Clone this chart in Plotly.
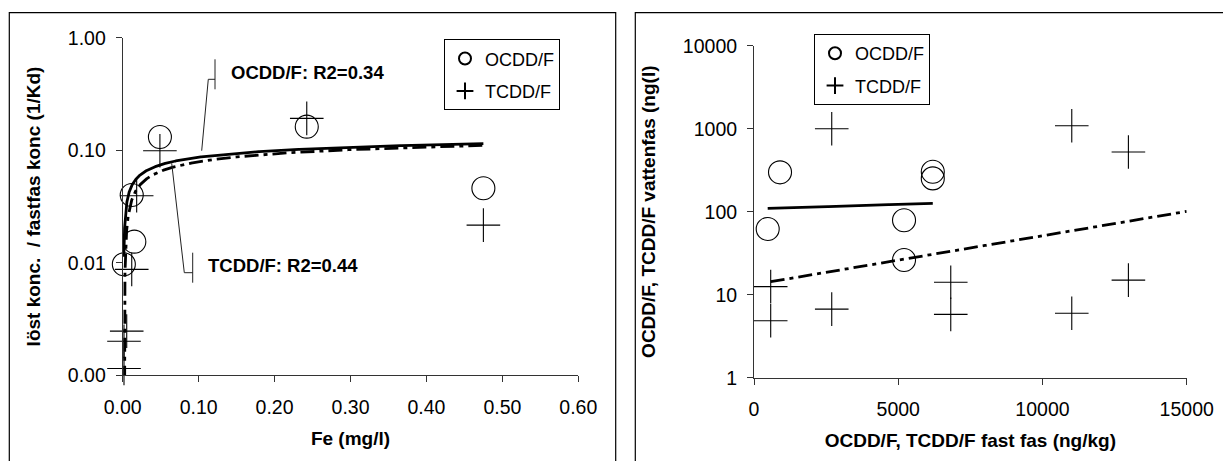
import numpy as np
import plotly.graph_objects as go

# ---------------- data ----------------
# Left panel: Fe (mg/l) vs dissolved / solid phase concentration (1/Kd)
fe_ocdd = [0.0015, 0.0119, 0.0153, 0.049, 0.2424, 0.475]
kd_ocdd = [0.0097, 0.040, 0.0154, 0.131, 0.162, 0.0459]
fe_tcdd = [0.0017, 0.0017, 0.0053, 0.0119, 0.0184, 0.049, 0.2424, 0.475]
kd_tcdd = [0.00115, 0.00201, 0.00247, 0.00874, 0.0394, 0.099, 0.192, 0.0216]

# Right panel: solid phase (ng/kg) vs water phase (ng/l)
solid_ocdd = [475, 902, 6198, 6198, 5201, 5201]
water_ocdd = [62, 298, 303, 252, 79, 26.2]
solid_tcdd = [579, 579, 2695, 2695, 6821, 6821, 11016, 11016, 12979, 12979]
water_tcdd = [12.5, 4.86, 1000, 6.7, 14.1, 5.8, 1087, 5.97, 524, 15.0]

left_yticks = [0.001, 0.01, 0.1, 1]
left_yticklabels = ["0.00", "0.01", "0.10", "1.00"]
right_yticks = [1, 10, 100, 1000, 10000]
right_yticklabels = ["1", "10", "100", "1000", "10000"]

series_names = ["OCDD/F", "TCDD/F"]
label_ocdd = "OCDD/F: R2=0.34"
label_tcdd = "TCDD/F: R2=0.44"

# trendline option (Excel-style forward forecast on the TCDD exponential fit)
tcdd_forecast_to = 15000


# ---------------- trendlines (least-squares fits of the data) ----------------
def log_trend(x, y, n=1500):
    a, b = np.polyfit(np.log(x), y, 1)
    xs = np.geomspace(min(x), max(x), n)
    ys = a * np.log(xs) + b
    return list(xs), [float(v) if v > 0 else None for v in ys]


def exp_trend(x, y, x_end=None, n=300):
    k, ln_a = np.polyfit(x, np.log(y), 1)
    xs = np.linspace(min(x), x_end if x_end else max(x), n)
    return list(xs), list(np.exp(ln_a + k * xs))


lx_o, ly_o = log_trend(fe_ocdd, kd_ocdd)
lx_t, ly_t = log_trend(fe_tcdd, kd_tcdd)
rx_o, ry_o = exp_trend(solid_ocdd, water_ocdd)
rx_t, ry_t = exp_trend(solid_tcdd, water_tcdd, tcdd_forecast_to)

# ---------------- figure ----------------
W, H = 1231, 461
PAGE_OFFSET = 8  # default body margin of the html page
FONT = "Liberation Sans, Arial, sans-serif"
DASHDOT = "14px,5px,4px,5px"


def px(x):
    return (x - PAGE_OFFSET) / W


def py(y):
    return 1 - (y - PAGE_OFFSET) / H


circle = dict(symbol="circle-open", size=23, color="black", line=dict(width=1.1, color="black"))
cross = dict(symbol="cross-thin-open", size=24, color="black", line=dict(width=1.1, color="black"))

fig = go.Figure()

# left panel
fig.add_trace(go.Scatter(x=lx_o, y=ly_o, mode="lines", line=dict(color="black", width=2.8),
                         showlegend=False, xaxis="x", yaxis="y", hoverinfo="skip"))
fig.add_trace(go.Scatter(x=lx_t, y=ly_t, mode="lines", line=dict(color="black", width=2.8, dash=DASHDOT),
                         showlegend=False, xaxis="x", yaxis="y", hoverinfo="skip", connectgaps=False))
fig.add_trace(go.Scatter(x=fe_ocdd, y=kd_ocdd, mode="markers", marker=circle, name=series_names[0],
                         legendgroup="o1", cliponaxis=False, xaxis="x", yaxis="y", legend="legend"))
fig.add_trace(go.Scatter(x=fe_tcdd, y=kd_tcdd, mode="markers", marker=cross, name=series_names[1],
                         legendgroup="t1", cliponaxis=False, xaxis="x", yaxis="y", legend="legend"))

# right panel
fig.add_trace(go.Scatter(x=rx_o, y=ry_o, mode="lines", line=dict(color="black", width=2.8),
                         showlegend=False, xaxis="x2", yaxis="y2", hoverinfo="skip"))
fig.add_trace(go.Scatter(x=rx_t, y=ry_t, mode="lines", line=dict(color="black", width=2.8, dash=DASHDOT),
                         showlegend=False, xaxis="x2", yaxis="y2", hoverinfo="skip"))
fig.add_trace(go.Scatter(x=solid_ocdd, y=water_ocdd, mode="markers", marker=circle, name=series_names[0],
                         legendgroup="o2", cliponaxis=False, xaxis="x2", yaxis="y2", legend="legend2"))
fig.add_trace(go.Scatter(x=solid_tcdd, y=water_tcdd, mode="markers", marker=cross, name=series_names[1],
                         legendgroup="t2", cliponaxis=False, xaxis="x2", yaxis="y2", legend="legend2"))

axis_common = dict(showline=True, linecolor="#333333", linewidth=1, ticks="outside", ticklen=6,
                   tickwidth=1, tickcolor="#333333", showgrid=False, zeroline=False,
                   automargin=False,
                   tickfont=dict(family=FONT, size=19.5, color="black"))
title_font = dict(family=FONT, size=19, color="black", weight="bold")

legend_common = dict(xanchor="left", yanchor="top", bordercolor="black", borderwidth=1,
                     bgcolor="white", font=dict(family=FONT, size=18, color="black"),
                     itemsizing="constant", tracegroupgap=6, traceorder="grouped")

fig.update_layout(
    width=W, height=H,
    margin=dict(l=0, r=0, t=0, b=0, autoexpand=False),
    paper_bgcolor="white", plot_bgcolor="white",
    font=dict(family=FONT, color="black"),
    xaxis=dict(domain=[px(122.7), px(578.3)], range=[0, 0.6], dtick=0.1, tickformat=".2f",
               anchor="y", ticklabelstandoff=8,
               title=dict(text="Fe (mg/l)", font=title_font, standoff=14), **axis_common),
    yaxis=dict(domain=[py(375.3), py(37.7)], type="log", range=[-3, 0], anchor="x",
               tickvals=left_yticks, ticktext=left_yticklabels, ticklabelstandoff=6,
               title=dict(text="löst konc.  / fastfas konc (1/Kd)", font=title_font, standoff=22),
               **axis_common),
    xaxis2=dict(domain=[px(754), px(1186.7)], range=[0, 15000], dtick=5000, tickformat="d",
                anchor="y2", ticklabelstandoff=8,
                title=dict(text="OCDD/F, TCDD/F fast fas (ng/kg)", font=title_font, standoff=14),
                **axis_common),
    yaxis2=dict(domain=[py(377.7), py(45.7)], type="log", range=[0, 4], anchor="x2",
                tickvals=right_yticks, ticktext=right_yticklabels, ticklabelstandoff=6,
                title=dict(text="OCDD/F, TCDD/F vattenfas (ng(l)", font=title_font, standoff=22),
                **axis_common),
    legend=dict(x=px(444), y=py(39.3), **legend_common),
    legend2=dict(x=px(814), y=py(34), **legend_common),
)

# panel frames
frame = dict(type="rect", xref="paper", yref="paper", line=dict(color="black", width=1.2),
             fillcolor="rgba(0,0,0,0)", layer="below")
fig.add_shape(x0=px(9.3), x1=px(615.7), y0=-0.05, y1=py(12.7), **frame)
fig.add_shape(x0=px(635.3), x1=px(1226), y0=-0.05, y1=py(12.7), **frame)

# label leader lines
lead = dict(type="path", xref="paper", yref="paper", line=dict(color="#222222", width=1))


def path(points):
    return "M " + " L ".join(f"{px(a):.5f},{py(b):.5f}" for a, b in points)


fig.add_shape(path=path([(201.7, 150.7), (208.3, 79.3), (215, 79.3)]), **lead)
fig.add_shape(path=path([(215, 59.3), (215, 89.3)]), **lead)
fig.add_shape(path=path([(171.7, 163.3), (184.3, 272.7), (192.7, 272.7)]), **lead)
fig.add_shape(path=path([(192.7, 252.7), (192.7, 282.7)]), **lead)

ann_font = dict(family=FONT, size=18.5, color="black", weight="bold")
fig.add_annotation(text=label_ocdd, xref="paper", yref="paper", x=px(228.5), y=py(72.5),
                   xanchor="left", yanchor="middle", showarrow=False, font=ann_font)
fig.add_annotation(text=label_tcdd, xref="paper", yref="paper", x=px(206), y=py(265),
                   xanchor="left", yanchor="middle", showarrow=False, font=ann_font)

fig.write_html("out.html")
